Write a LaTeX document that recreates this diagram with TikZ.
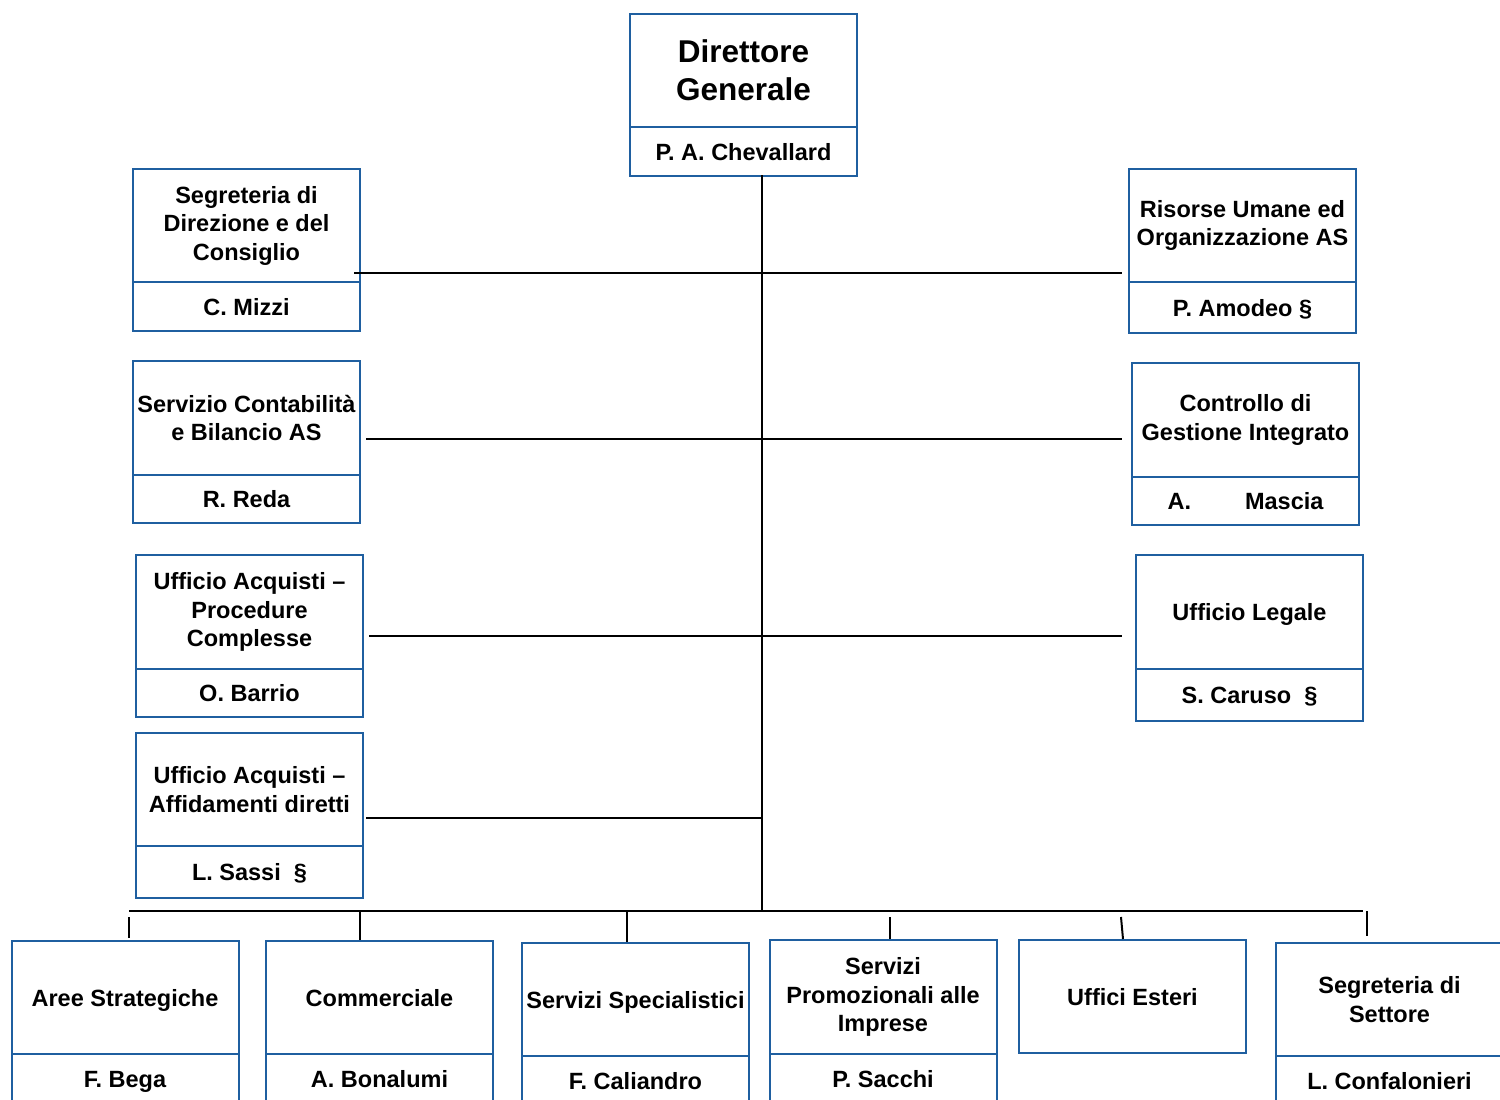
\documentclass[tikz,border=0pt]{standalone}
\usepackage{fontspec}
\setmainfont{Liberation Sans}
\definecolor{boxblue}{RGB}{31,95,160}
\begin{document}
\begin{tikzpicture}[x=1pt,y=-1pt,
  box/.style={draw=boxblue, line width=2pt, minimum width=227pt, inner sep=0pt,
    align=center, anchor=north, font=\bfseries\fontsize{23.5}{28.5}\selectfont},
  one/.style={text height=22pt, text depth=5pt},
  bigbox/.style={box, font=\bfseries\fontsize{31.5}{38}\selectfont},
  conn/.style={draw=black, line width=2pt}]
\useasboundingbox (0,0) rectangle (1500,1100);
\fill[white] (0,0) rectangle (1500,1100);

% top
\node[bigbox, minimum height=113pt] (dg) at (743.5,13) {Direttore\\Generale};
\node[box, one, minimum height=49pt] (dgn) at (743.5,126) {P. A. Chevallard};

% left column
\node[box, minimum height=113pt] (seg) at (246.5,168) {Segreteria di\\Direzione e del\\Consiglio};
\node[box, one, minimum height=49pt] (segn) at (246.5,281) {C. Mizzi};
\node[box, minimum height=114pt] (cont) at (246.5,360) {Servizio Contabilità\\e Bilancio AS};
\node[box, one, minimum height=48pt] (contn) at (246.5,474) {R. Reda};
\node[box, minimum height=114pt] (acqp) at (249.5,554) {Ufficio Acquisti --\\Procedure\\Complesse};
\node[box, one, minimum height=48pt] (acqpn) at (249.5,668) {O. Barrio};
\node[box, minimum height=113pt] (acqa) at (249.5,732) {Ufficio Acquisti --\\Affidamenti diretti};
\node[box, one, minimum height=52pt] (acqan) at (249.5,845) {L. Sassi\ \ §};

% right column
\node[box, minimum height=113pt] (ris) at (1242.5,168) {Risorse Umane ed\\Organizzazione AS};
\node[box, one, minimum height=51pt] (risn) at (1242.5,281) {P. Amodeo §};
\node[box, minimum height=114pt] (ctrl) at (1245.5,362) {Controllo di\\Gestione Integrato};
\node[box, one, minimum height=48pt] (ctrln) at (1245.5,476) {A.\hspace{54pt}Mascia};
\node[box, one, minimum height=114pt] (leg) at (1249.5,554) {Ufficio Legale};
\node[box, one, minimum height=52pt] (legn) at (1249.5,668) {S. Caruso\ \ §};

% bottom row
\node[box, one, minimum height=113pt] (aree) at (125,940) {Aree Strategiche};
\node[box, one, minimum height=50pt] (areen) at (125,1053) {F. Bega};
\node[box, one, minimum height=113pt] (comm) at (379.5,940) {Commerciale};
\node[box, one, minimum height=50pt] (commn) at (379.5,1053) {A. Bonalumi};
\node[box, one, minimum height=113pt] (spec) at (635.5,942) {Servizi Specialistici};
\node[box, one, minimum height=50pt] (specn) at (635.5,1055) {F. Caliandro};
\node[box, minimum height=114pt] (prom) at (883,939) {Servizi\\Promozionali alle\\Imprese};
\node[box, one, minimum height=50pt] (promn) at (883,1053) {P. Sacchi};
\node[box, one, minimum height=113pt] (est) at (1132.5,939) {Uffici Esteri};
\node[box, minimum height=113pt] (sett) at (1389.5,942) {Segreteria di\\Settore};
\node[box, one, minimum height=50pt] (settn) at (1389.5,1055) {L. Confalonieri};

% connector coordinates
\coordinate (t0) at (762,175);
\coordinate (t1) at (762,911);
\coordinate (h1a) at (354,273);  \coordinate (h1b) at (1122,273);
\coordinate (h2a) at (366,439);  \coordinate (h2b) at (1122,439);
\coordinate (h3a) at (369,636);  \coordinate (h3b) at (1122,636);
\coordinate (h4a) at (366,818);  \coordinate (h4b) at (762,818);
\coordinate (ba) at (129,911);   \coordinate (bb) at (1363,911);
\coordinate (d1a) at (129,917);  \coordinate (d1b) at (129,938);
\coordinate (d2a) at (360,911);  \coordinate (d2b) at (360,940);
\coordinate (d3a) at (627,911);  \coordinate (d3b) at (627,942);
\coordinate (d4a) at (890,917);  \coordinate (d4b) at (890,939);
\coordinate (d5a) at (1121,917); \coordinate (d5b) at (1123,939);
\coordinate (d6a) at (1367,911); \coordinate (d6b) at (1367,936);

\draw[conn] (t0) -- (t1);
\draw[conn] (h1a) -- (h1b);
\draw[conn] (h2a) -- (h2b);
\draw[conn] (h3a) -- (h3b);
\draw[conn] (h4a) -- (h4b);
\draw[conn] (ba) -- (bb);
\draw[conn] (d1a) -- (d1b);
\draw[conn] (d2a) -- (d2b);
\draw[conn] (d3a) -- (d3b);
\draw[conn] (d4a) -- (d4b);
\draw[conn] (d5a) -- (d5b);
\draw[conn] (d6a) -- (d6b);
\end{tikzpicture}
\end{document}
